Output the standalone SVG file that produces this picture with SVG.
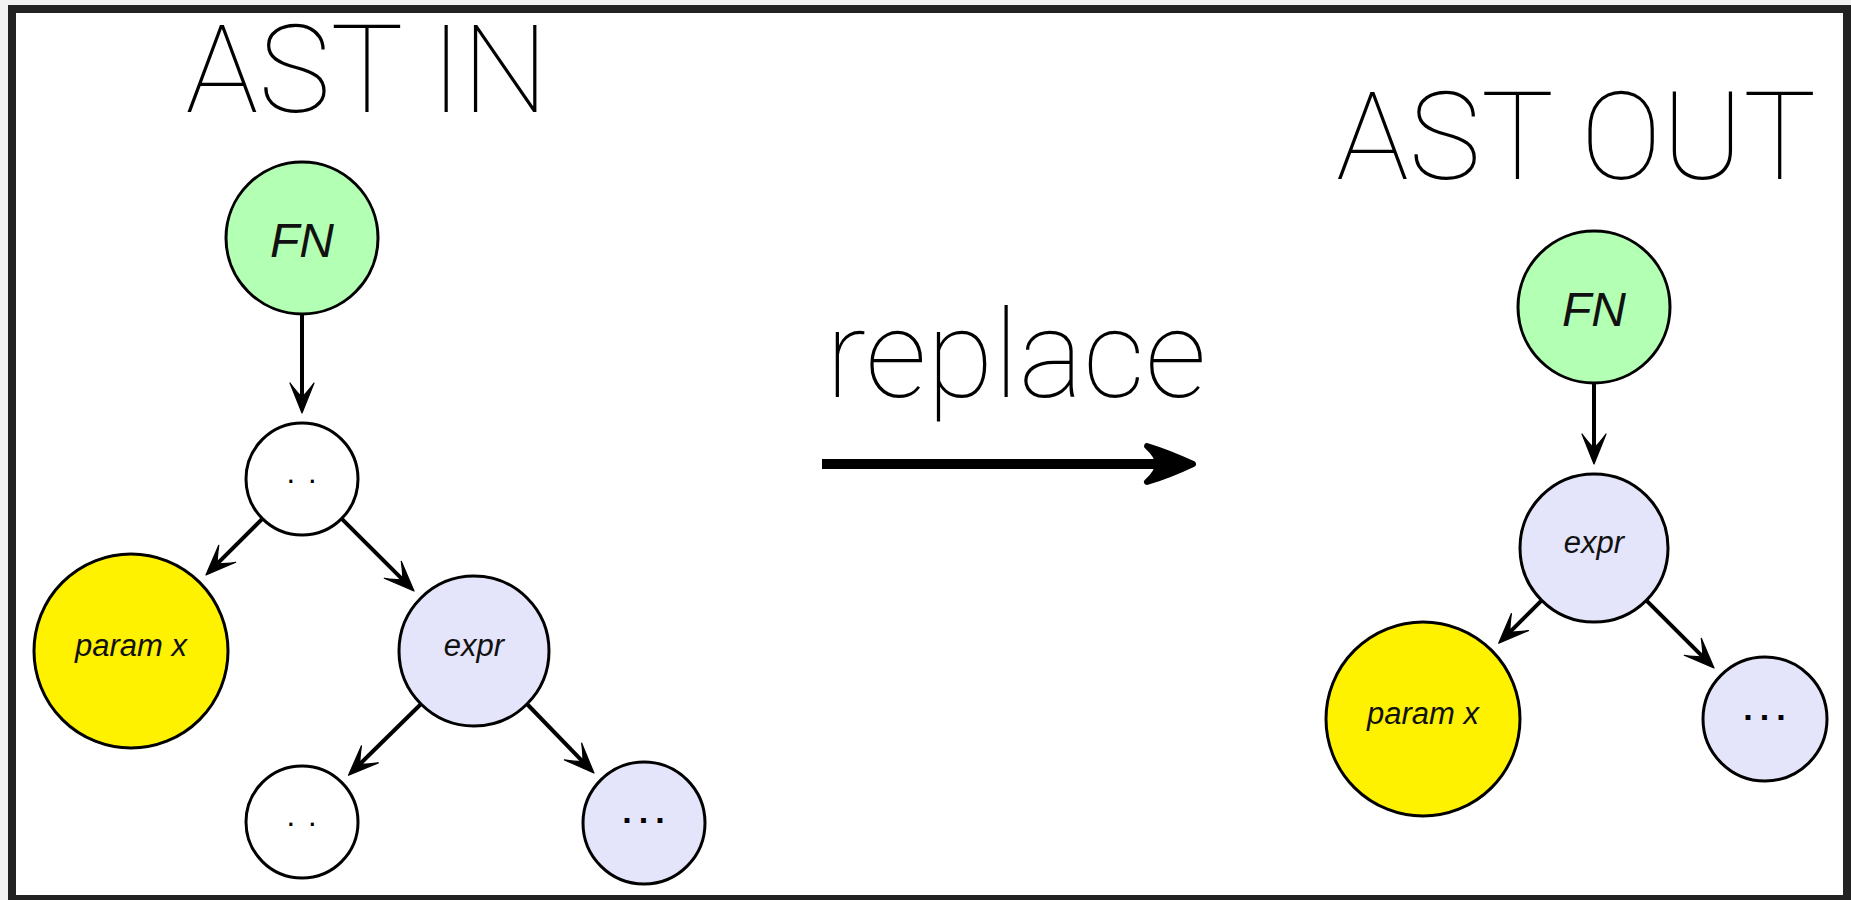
<svg xmlns="http://www.w3.org/2000/svg" width="1851" height="900" viewBox="0 0 1851 900">
  <style>
    .title { font-family: Roboto, "Liberation Sans", sans-serif; font-weight: 100; font-size: 122px; fill: #000; text-anchor: middle; }
    .node { stroke: #000; stroke-width: 3; }
    .fn { fill: #b3ffb3; }
    .param { fill: #fff200; }
    .expr { fill: #e4e4fa; }
    .blank { fill: #ffffff; }
    .label { font-family: "Liberation Sans", Arial, sans-serif; font-style: italic; fill: #111; text-anchor: middle; }
    .big { font-size: 48px; }
    .small { font-size: 31px; }
    .dots3 { font-family: "Liberation Sans", Arial, sans-serif; font-weight: bold; font-size: 34px; letter-spacing: 7px; text-anchor: middle; fill: #000; }
    .dots2 { font-family: "Liberation Sans", Arial, sans-serif; font-size: 31px; letter-spacing: 13px; text-anchor: middle; fill: #000; }
    .edge { stroke: #000; stroke-width: 4; fill: none; marker-end: url(#head); }
  </style>
  <defs>
    <!-- arrowhead anchored at its notch; tip sits 15 units ahead -->
    <marker id="head" markerUnits="userSpaceOnUse" markerWidth="40" markerHeight="30" refX="0" refY="0" orient="auto" overflow="visible">
      <path d="M15,0 L-15,-12 Q-5,-4.5 -1,0 Q-5,4.5 -15,12 Z" fill="#000" stroke="#000" stroke-width="1.2" stroke-linejoin="round"/>
    </marker>
  </defs>

  <!-- frame -->
  <rect x="0" y="0" width="1851" height="900" fill="#f2f2f2"/>
  <rect x="8" y="5" width="1843" height="895" fill="#222"/>
  <rect x="16" y="13" width="1827" height="882" fill="#fff"/>

  <!-- headings -->
  <text class="title" x="367" y="112">AST IN</text>
  <text class="title" x="1576" y="179">AST OUT</text>
  <text class="title" x="1016" y="397">replace</text>

  <!-- big transformation arrow -->
  <g id="replace-arrow">
    <line x1="822" y1="464" x2="1162" y2="464" stroke="#000" stroke-width="10"/>
    <path d="M1193,464 Q1170,453 1147,446 Q1158,456 1158,464 Q1158,472 1147,482 Q1170,475 1193,464 Z" fill="#000" stroke="#000" stroke-width="6" stroke-linejoin="round"/>
  </g>

  <!-- connectors -->
  <g id="connectors">
    <path class="edge" d="M302,314 L302,398"/>
    <path class="edge" d="M262.5,518.7 L216.6,564.4"/>
    <path class="edge" d="M341.6,518.6 L403.4,580.4"/>
    <path class="edge" d="M421,704 L359.2,764.8"/>
    <path class="edge" d="M527,704 L583.5,762.3"/>
    <path class="edge" d="M1594,383 L1594,449"/>
    <path class="edge" d="M1541.7,600.3 L1509.3,632.7"/>
    <path class="edge" d="M1646.3,600.3 L1703.4,657.4"/>
  </g>

  <!-- input tree -->
  <g id="in-fn">
    <circle class="node fn" cx="302" cy="238" r="76"/>
    <text class="label big" x="302" y="257">FN</text>
  </g>
  <g id="in-seq">
    <circle class="node blank" cx="302" cy="479" r="56"/>
    <text class="dots2" x="308" y="483">..</text>
  </g>
  <g id="in-param">
    <circle class="node param" cx="131" cy="651" r="97"/>
    <text class="label small" x="131" y="656">param x</text>
  </g>
  <g id="in-expr">
    <circle class="node expr" cx="474" cy="651" r="75"/>
    <text class="label small" x="474" y="656">expr</text>
  </g>
  <g id="in-rest">
    <circle class="node blank" cx="302" cy="822" r="56"/>
    <text class="dots2" x="308" y="826">..</text>
  </g>
  <g id="in-more">
    <circle class="node expr" cx="644" cy="823" r="61"/>
    <text class="dots3" x="647" y="823">...</text>
  </g>

  <!-- output tree -->
  <g id="out-fn">
    <circle class="node fn" cx="1594" cy="307" r="76"/>
    <text class="label big" x="1594" y="326">FN</text>
  </g>
  <g id="out-expr">
    <circle class="node expr" cx="1594" cy="548" r="74"/>
    <text class="label small" x="1594" y="553">expr</text>
  </g>
  <g id="out-param">
    <circle class="node param" cx="1423" cy="719" r="97"/>
    <text class="label small" x="1423" y="724">param x</text>
  </g>
  <g id="out-more">
    <circle class="node expr" cx="1765" cy="719" r="62"/>
    <text class="dots3" x="1768" y="720">...</text>
  </g>
</svg>
